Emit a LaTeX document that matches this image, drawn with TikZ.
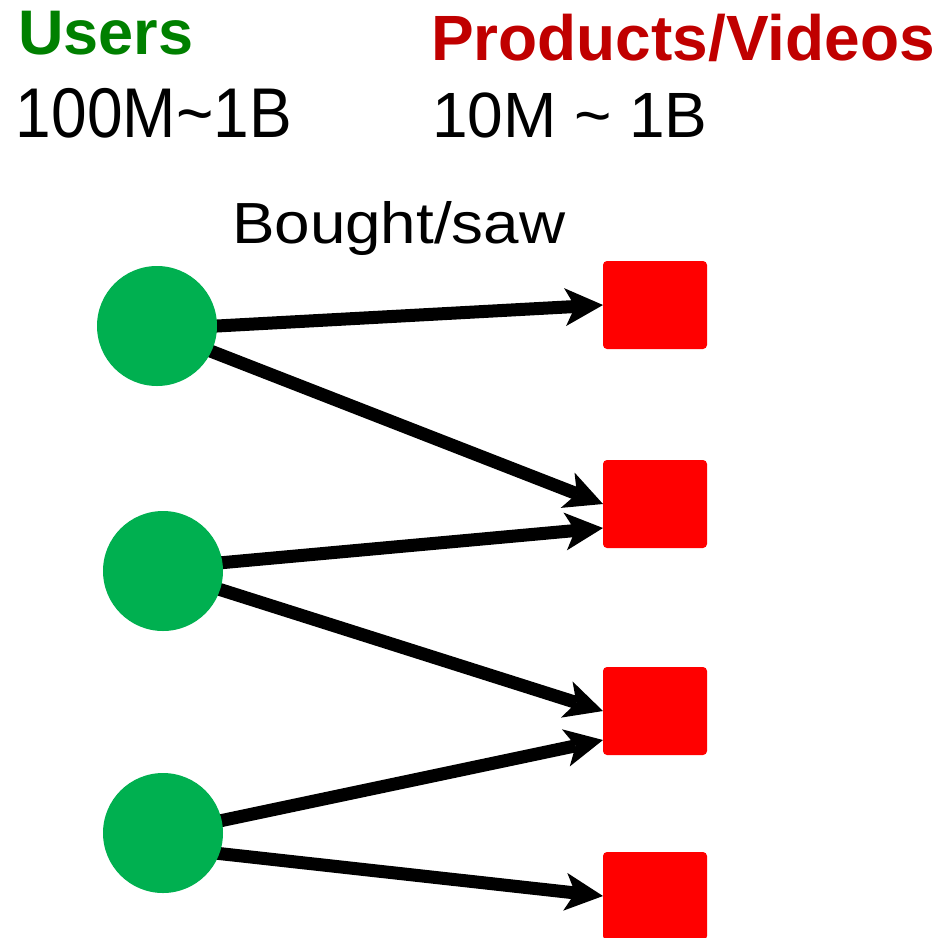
\documentclass[tikz,border=0pt]{standalone}
\usepackage{fontspec}
\setmainfont{Liberation Sans}
\usetikzlibrary{arrows.meta,calc,backgrounds}
\definecolor{usergreen}{RGB}{0,128,0}
\definecolor{prodred}{RGB}{192,0,0}
\definecolor{circgreen}{RGB}{0,176,80}
\definecolor{sqred}{RGB}{255,0,0}
\begin{document}
\begin{tikzpicture}[x=1pt,y=-1pt,
  usernode/.style={circle, fill=circgreen, minimum size=120pt, inner sep=0pt, outer sep=0pt},
  itemnode/.style={rectangle, fill=sqred, minimum width=104pt, minimum height=88pt, rounded corners=4pt, inner sep=0pt, outer sep=0pt},
  txt/.style={anchor=base west, inner sep=0pt, outer sep=0pt},
  arr/.style={line width=13pt, -{Stealth[length=38pt,width=38pt,inset=10pt,line width=0pt]}, shorten <=-12pt}
]
\useasboundingbox (0,0) rectangle (949,937);
\clip (0,0) rectangle (949,937);

\node[txt, font=\fontsize{63pt}{63pt}\selectfont\bfseries, text=usergreen] (tu) at (18,54) {Users};
\node[txt, font=\fontsize{64pt}{64pt}\selectfont] (tun) at (16,137) {\scalebox{1}[1.1]{100M\textasciitilde1B}};
\node[txt, font=\fontsize{64pt}{64pt}\selectfont\bfseries, text=prodred] (tp) at (431,60) {Products/Videos};
\node[txt, font=\fontsize{64pt}{64pt}\selectfont] (tpn) at (432,137) {10M \textasciitilde{} 1B};
\node[txt, font=\fontsize{58pt}{58pt}\selectfont] (tb) at (232,243) {\scalebox{1.1}[1]{Bought/saw}};

\node[usernode] (c1) at (157,326) {};
\node[usernode] (c2) at (163,571) {};
\node[usernode] (c3) at (163,833) {};

\node[itemnode] (s1) at (655,305) {};
\node[itemnode] (s2) at (655,504) {};
\node[itemnode] (s3) at (655,711) {};
\node[itemnode] (s4) at (655,896) {};

\begin{scope}[on background layer]
\draw[arr] (c1.east) -- (s1.west);
\draw[arr] (c1.-25) -- (s2.west);
\draw[arr] (c2.8) -- ($(s2.west)+(0,24)$);
\draw[arr] (c2.-18) -- (s3.west);
\draw[arr] (c3.12) -- ($(s3.west)+(0,29)$);
\draw[arr] (c3.-20) -- (s4.west);
\end{scope}
\end{tikzpicture}
\end{document}
